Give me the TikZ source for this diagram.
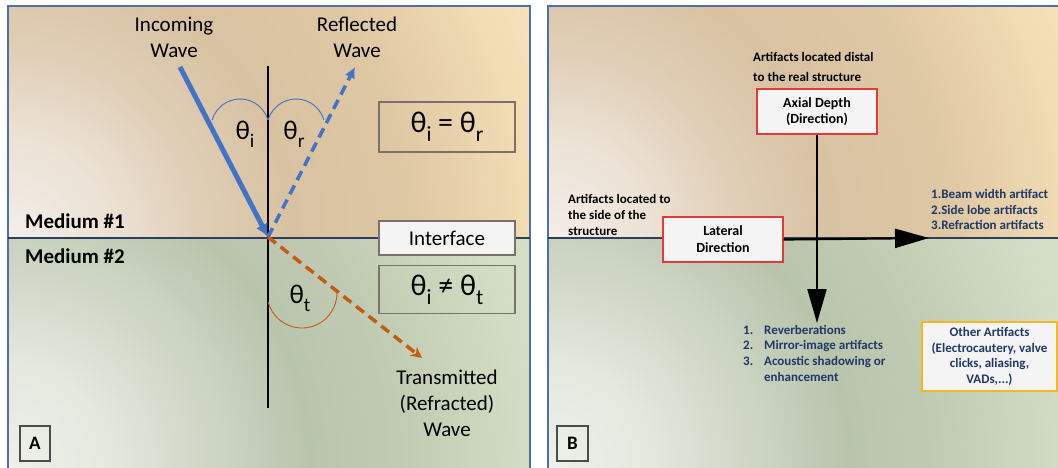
\documentclass[tikz,border=0pt]{standalone}
\usepackage{fontspec}
\setmainfont{Carlito}
\usetikzlibrary{arrows.meta}
\definecolor{panelborder}{HTML}{4F6FA5}
\definecolor{navyline}{HTML}{2E3F5E}
\definecolor{wblue}{HTML}{4472C4}
\definecolor{worange}{HTML}{C55A11}
\definecolor{navytext}{HTML}{1F3864}
\definecolor{redborder}{HTML}{E23A3A}
\definecolor{goldborder}{HTML}{F5B823}
\definecolor{boxfill}{HTML}{F4F4F4}
\definecolor{grayborder}{HTML}{7A7268}
\definecolor{tb0}{HTML}{F4EEE9}
\definecolor{tb1}{HTML}{ECE2D5}
\definecolor{tb2}{HTML}{DFCDB4}
\definecolor{tb3}{HTML}{D8C2A2}
\definecolor{tb4}{HTML}{DEC7A3}
\definecolor{tb5}{HTML}{F2DCB4}
\definecolor{tb6}{HTML}{F8E4BF}
\definecolor{bb0}{HTML}{EEF0EA}
\definecolor{bb1}{HTML}{E4E8DE}
\definecolor{bb2}{HTML}{CFD6C6}
\definecolor{bb3}{HTML}{B9C4AD}
\definecolor{bb4}{HTML}{C2CCB3}
\definecolor{bb5}{HTML}{D3DDC4}
\definecolor{bb6}{HTML}{D8E2C8}
\pgfdeclareradialshading{topbg}{\pgfpointorigin}{color(0bp)=(tb0); color(4.2bp)=(tb1); color(8.3bp)=(tb2); color(11.7bp)=(tb3); color(16.7bp)=(tb4); color(21.7bp)=(tb5); color(25bp)=(tb6); color(50bp)=(tb6)}
\pgfdeclareradialshading{botbg}{\pgfpointorigin}{color(0bp)=(bb0); color(4.2bp)=(bb1); color(8.3bp)=(bb2); color(12.5bp)=(bb3); color(16.7bp)=(bb4); color(21.7bp)=(bb5); color(25bp)=(bb6); color(50bp)=(bb6)}
\newcommand\thsub[1]{θ\raisebox{-0.3em}{\scalebox{0.72}{#1}}}
\tikzset{
  bigtext/.style={font=\fontsize{21}{26}\selectfont, inner sep=0pt, align=center},
  medtext/.style={font=\fontsize{21}{26}\selectfont\bfseries, inner sep=0pt, anchor=west},
  thetabox/.style={draw=grayborder, line width=1.1pt, minimum width=136pt, inner sep=0pt, font=\fontsize{30}{32}\selectfont},
  thetalbl/.style={inner sep=0pt, font=\fontsize{27}{30}\selectfont},
  smallbold/.style={font=\fontsize{13}{15.6}\selectfont\bfseries, inner sep=0pt, align=left, anchor=west},
  redbox/.style={draw=redborder, line width=1.4pt, fill=boxfill, minimum width=120pt, minimum height=45pt, inner sep=0pt, align=center, font=\fontsize{14}{16.5}\selectfont\bfseries},
  letterbox/.style={draw=black!70, line width=1.1pt, minimum height=35pt, inner sep=0pt, font=\fontsize{19}{22}\selectfont\bfseries},
  incoming/.style={wblue, line width=5pt, -{Latex[length=13pt,width=13pt]}},
  reflected/.style={wblue, line width=3.5pt, dash pattern=on 10pt off 6pt, -{Latex[length=11pt,width=11pt]}},
  transmitted/.style={worange, line width=3.5pt, dash pattern=on 10pt off 6pt, -{Stealth[length=11pt,width=11pt]}},
  bigarrow/.style={black, line width=2.2pt, -{Triangle[length=34pt,width=19pt]}},
}
\begin{document}
\begin{tikzpicture}[x=1pt,y=-1pt]
\clip (0,0) rectangle (1058,467);
\fill[white] (0,0) rectangle (1058,467);
% ---------- backgrounds ----------
\begin{scope}
\clip (8,6) rectangle (530,238);
\shade[shading=topbg] (8,240) circle[radius=600];
\end{scope}
\begin{scope}
\clip (8,238) rectangle (530,470);
\shade[shading=botbg] (8,467) circle[radius=600];
\end{scope}
\begin{scope}
\clip (548,6) rectangle (1060,238);
\shade[shading=topbg] (548,240) circle[radius=600];
\end{scope}
\begin{scope}
\clip (548,238) rectangle (1060,470);
\shade[shading=botbg] (548,467) circle[radius=600];
\end{scope}
\draw[panelborder, line width=1.3pt] (8,6) rectangle (530,480);
\draw[panelborder, line width=1.3pt] (548,6) rectangle (1070,480);
\draw[navyline, line width=1.2pt] (8,238) -- (530,238);
\draw[navyline, line width=1.2pt] (548,238) -- (1058,238);

% ---------- Panel A ----------
\coordinate (O) at (268,237);
\coordinate (vtop) at (268,66);
\coordinate (vbot) at (268,408);
\coordinate (inS) at (180,67);
\coordinate (reE) at (355,67);
\coordinate (trE) at (422,358);
\draw[black, line width=2.4pt] (vtop) -- (vbot);
\draw[wblue, line width=0.9pt] (240,128) ++(-164:29) arc[start angle=-164, end angle=-16, radius=29];
\draw[wblue, line width=0.9pt] (296,128) ++(-164:29) arc[start angle=-164, end angle=-16, radius=29];
\draw[worange, line width=0.9pt] (302,293) ++(165:35) arc[start angle=165, end angle=0, radius=35];
\draw[incoming] (inS) -- (O);
\draw[reflected] (O) -- (reE);
\draw[transmitted] (O) -- (trE);

\node[bigtext] (inc) at (174,37) {Incoming\\Wave};
\node[bigtext] (refl) at (357,37) {Reflected\\Wave};
\node[bigtext] (trans) at (447,403) {Transmitted\\(Refracted)\\Wave};
\node[medtext] (m1) at (25,221) {Medium \#1};
\node[medtext] (m2) at (25,256) {Medium \#2};
\node[thetalbl] (ti) at (245,134) {\thsub{i}};
\node[thetalbl] (tr) at (294,134) {\thsub{r}};
\node[thetalbl] (tt) at (300,298) {\thsub{t}};
\node[thetabox, minimum height=50pt] (eq) at (447,127) {\thsub{i} = \thsub{r}};
\node[draw=grayborder, line width=1.1pt, fill=boxfill, minimum width=136pt, minimum height=34pt, inner sep=0pt, font=\fontsize{21}{26}\selectfont] (iface) at (447,238) {Interface};
\node[thetabox, minimum height=48pt] (neq) at (447,289.5) {\thsub{i} ≠ \thsub{t}};
\node[letterbox, minimum width=30pt] (labA) at (35,443.5) {A};

% ---------- Panel B ----------
\node[smallbold, font=\fontsize{13}{20}\selectfont\bfseries] (distal) at (753,67) {Artifacts located distal\\to\ the real structure};
\node[redbox] (axial) at (817,111.5) {Axial Depth\\(Direction)};
\node[redbox, font=\fontsize{14}{17}\selectfont\bfseries] (lateral) at (723,239.5) {Lateral\\Direction};
\node[smallbold] (side) at (568,215) {Artifacts located to\\the side of the\\structure};
\node[smallbold, text=navytext] (lat) at (931,209.5) {1.Beam width artifact\\2.Side lobe artifacts\\3.Refraction artifacts};
\coordinate (axtip) at (817,323);
\coordinate (lattip) at (929,238);
\draw[bigarrow] (axial.south) -- (axtip);
\draw[bigarrow] (lateral.east) -- (lattip);
\node[inner sep=0pt, anchor=west, text=navytext, font=\fontsize{13}{15.7}\selectfont\bfseries] (list) at (743,354.5)
  {\begin{tabular}{@{}p{21pt}@{}l@{}}1. & Reverberations\\2. & Mirror-image artifacts\\3. & Acoustic shadowing or\\ & enhancement\end{tabular}};
\node[draw=goldborder, line width=1.4pt, fill=boxfill, minimum width=135pt, minimum height=69pt, inner sep=0pt, align=center, text=navytext, font=\fontsize{13}{15.7}\selectfont\bfseries] (other) at (989.5,356.5)
  {Other Artifacts\\(Electrocautery, valve\\clicks, aliasing,\\VADs,...)};
\node[letterbox, minimum width=31pt] (labB) at (572.5,443.5) {B};
\end{tikzpicture}
\end{document}
